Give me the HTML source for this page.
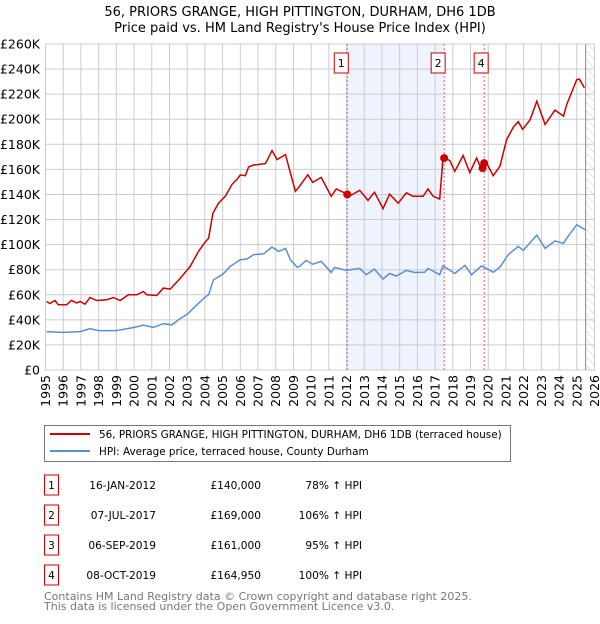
<!DOCTYPE html>
<html><head><meta charset="utf-8"><style>
body{margin:0;background:#fff;font-family:"DejaVu Sans","Liberation Sans",sans-serif}
svg text{font-family:"DejaVu Sans","Liberation Sans",sans-serif}
</style></head><body>
<svg id="c" width="600" height="620" xmlns="http://www.w3.org/2000/svg">
<text x="300" y="16" text-anchor="middle" font-size="13">56, PRIORS GRANGE, HIGH PITTINGTON, DURHAM, DH6 1DB</text>
<text x="300" y="32" text-anchor="middle" font-size="13">Price paid vs. HM Land Registry's House Price Index (HPI)</text>
<defs><pattern id="h" width="6" height="6" patternUnits="userSpaceOnUse" patternTransform="rotate(-45)"><line x1="0" y1="0" x2="0" y2="6" stroke="#ccc" stroke-width="1"/></pattern></defs>
<g id="grid"></g><g id="marks"></g>
<rect x="44.5" y="425.5" width="466" height="36" fill="#fff" stroke="#777"/>
<line x1="50" y1="434" x2="90" y2="434" stroke="#cc0000" stroke-width="2"/>
<text x="99" y="438" font-size="10.4">56, PRIORS GRANGE, HIGH PITTINGTON, DURHAM, DH6 1DB (terraced house)</text>
<line x1="50" y1="451" x2="90" y2="451" stroke="#5b8fd4" stroke-width="2"/>
<text x="99" y="455" font-size="10.4">HPI: Average price, terraced house, County Durham</text>
<g id="tbl" font-size="10.6"></g>
<text x="44" y="600" font-size="11" fill="#777">Contains HM Land Registry data © Crown copyright and database right 2025.</text>
<text x="44" y="610" font-size="11" fill="#777">This data is licensed under the Open Government Licence v3.0.</text>
</svg>
<script>
const hpiYears=[1995.06,1996.0,1996.96,1997.51,1997.98,1998.98,2000.02,2000.53,2001.09,2001.66,2002.13,2002.6,2003.02,2003.55,2004.0,2004.21,2004.49,2005.02,2005.43,2006.0,2006.38,2006.75,2007.32,2007.79,2008.17,2008.55,2008.83,2009.21,2009.34,2009.72,2010.09,2010.57,2011.13,2011.32,2011.98,2012.74,2013.11,2013.58,2014.06,2014.43,2014.81,2015.38,2015.85,2016.42,2016.6,2017.26,2017.45,2018.11,2018.68,2019.06,2019.62,2020.28,2020.66,2021.13,2021.7,2021.98,2022.74,2023.21,2023.77,2024.25,2024.43,2025.0,2025.15,2025.47];
const hpiValues=[30.6,30,30.6,33,31.4,31.4,34,35.7,34,37,36,41,44.7,52,58,60,72,76.5,82.6,88,88.5,92,92.7,98,94.6,97,88,82,82.6,87.4,84.4,86.6,77.8,81.8,79.4,81,76,80.5,72.5,77,75,79.4,77.8,78,81,76,83,77,83.4,76,83,78,82,92,98.6,95.4,107.6,97,103,101,105,116,114.5,112];
const ppYears=[1995.06,1995.25,1995.53,1995.72,1996.19,1996.47,1996.75,1996.96,1997.23,1997.51,1997.89,1998.45,1998.83,1999.21,1999.68,2000.15,2000.53,2000.72,2001.28,2001.66,2002.04,2002.6,2003.17,2003.64,2004.0,2004.21,2004.45,2004.77,2005.15,2005.53,2005.81,2006.0,2006.28,2006.47,2006.75,2007.42,2007.79,2008.08,2008.55,2008.83,2009.11,2009.34,2009.81,2010.09,2010.57,2011.13,2011.42,2011.98,2012.26,2012.74,2013.21,2013.58,2014.06,2014.43,2014.91,2015.38,2015.75,2016.32,2016.6,2016.89,2017.26,2017.45,2017.83,2018.11,2018.58,2018.96,2019.34,2019.62,2019.91,2020.28,2020.66,2021.04,2021.42,2021.7,2021.94,2022.36,2022.74,2023.21,2023.77,2024.25,2024.43,2025.0,2025.15,2025.43];
const ppValues=[54.6,53,55.4,52,52,55.5,53.5,54.6,52.5,57.8,55.4,56,57.8,55.4,60,60,62.6,60,59.4,65.3,64.5,73,82.6,94.6,101.8,105,125,133,138.5,148,152,155.6,155,162,163.5,164.6,175,167.8,171.8,157,142.5,146.5,155.8,149.6,153.6,138.5,144.4,140.6,139.5,143.3,135.3,141.8,128.7,140.3,133,141.3,138.5,138.5,144.4,138.5,136.4,170,167,158.5,171,157.5,169,160,165,155,162.5,184,193.7,198,192,199.4,214.4,195.8,207.3,202.4,211.7,231.7,232,225];
const saleIds=["1","2","3","4"];
const saleYears=[2012.04,2017.51,2019.68,2019.77];
const saleValues=[140,169,161,164.95];
const saleDates=["16-JAN-2012","07-JUL-2017","06-SEP-2019","08-OCT-2019"];
const salePrices=["£140,000","£169,000","£161,000","£164,950"];
const salePct=["78% ↑ HPI","106% ↑ HPI","95% ↑ HPI","100% ↑ HPI"];
const xTicks=[1995,1996,1997,1998,1999,2000,2001,2002,2003,2004,2005,2006,2007,2008,2009,2010,2011,2012,2013,2014,2015,2016,2017,2018,2019,2020,2021,2022,2023,2024,2025,2026];
const yTicks=[0,20,40,60,80,100,120,140,160,180,200,220,240,260];
const yLabels=["£0","£20K","£40K","£60K","£80K","£100K","£120K","£140K","£160K","£180K","£200K","£220K","£240K","£260K"];

const NS="http://www.w3.org/2000/svg";
const X0=45.5,X1=594.5,Y0=370,Y1=44;
const x=y=>X0+(y-1995)/31*(X1-X0);
const yv=v=>Y0-v/260*(Y0-Y1);
function mk(p,t,a){const e=document.createElementNS(NS,t);for(const k in a)e.setAttribute(k,a[k]);p.appendChild(e);return e;}
const g=document.getElementById('grid'),m=document.getElementById('marks'),tb=document.getElementById('tbl');
let e=mk(g,'rect',{x:x(saleYears[0]),y:Y1,width:x(saleYears[1])-x(saleYears[0]),height:Y0-Y1,fill:'#eef3fd'});


e=mk(g,'rect',{x:x(2025.5),y:Y1,width:X1-x(2025.5),height:Y0-Y1,fill:'url(#h)'});


xTicks.forEach(t=>{
 e=mk(g,'line',{x1:x(t),x2:x(t),y1:Y1,y2:Y0,stroke:'#ccc'});
 
 
 e=mk(g,'text',{x:0,y:0,'font-size':12.5,'text-anchor':'end',transform:`translate(${x(t)+4.5},${Y0+5}) rotate(-90)`});
 e.textContent=t;
 
 
});
yTicks.forEach((t,i)=>{
 e=mk(g,'line',{x1:X0,x2:X1,y1:yv(t),y2:yv(t),stroke:'#ccc'});
 
 
 e=mk(g,'text',{x:40,y:yv(t)+4.5,'font-size':12.5,'text-anchor':'end'});
 e.textContent=yLabels[i];
 
 
});
e=mk(g,'line',{x1:x(2025.5),x2:x(2025.5),y1:Y1,y2:Y0,stroke:'#888'});


saleIds.forEach((id,i)=>{
 if(id==="3")return;
 e=mk(m,'line',{x1:x(saleYears[i]),x2:x(saleYears[i]),y1:Y1,y2:Y0,stroke:'#f06060','stroke-dasharray':'2,2'});
 
 
 const bx=x(saleYears[i])-(id==="4"?3:6);
 e=mk(m,'rect',{x:bx-7,y:53,width:14,height:20,fill:'#fff',stroke:'#cc0000'});
 
 
 e=mk(m,'text',{x:bx,y:67,'font-size':11,'text-anchor':'middle'});
 e.textContent=id;
 
 
});
const pts=(xs,vs)=>xs.map((t,i)=>x(t).toFixed(1)+','+yv(vs[i]).toFixed(1)).join(' ');
e=mk(m,'polyline',{points:pts(hpiYears,hpiValues),fill:'none',stroke:'#5b8fd4','stroke-width':1.5});


e=mk(m,'polyline',{points:pts(ppYears,ppValues),fill:'none',stroke:'#cc0000','stroke-width':1.5});


saleYears.forEach((t,i)=>{
 e=mk(m,'circle',{cx:x(t),cy:yv(saleValues[i]),r:4,fill:'#cc0000'});
 
 
});
saleIds.forEach((id,i)=>{
 const y0=475+i*30;
 e=mk(tb,'rect',{x:44.5,y:y0,width:14,height:20,fill:'#fff',stroke:'#cc0000'});
 
 
 e=mk(tb,'text',{x:51.5,y:y0+14,'text-anchor':'middle'});e.textContent=id;
 
 
 e=mk(tb,'text',{x:156,y:y0+14,'text-anchor':'end'});e.textContent=saleDates[i];
 
 
 e=mk(tb,'text',{x:261,y:y0+14,'text-anchor':'end'});e.textContent=salePrices[i];
 
 
 e=mk(tb,'text',{x:362,y:y0+14,'text-anchor':'end'});e.textContent=salePct[i];
 
 
});
</script>
</body></html>
